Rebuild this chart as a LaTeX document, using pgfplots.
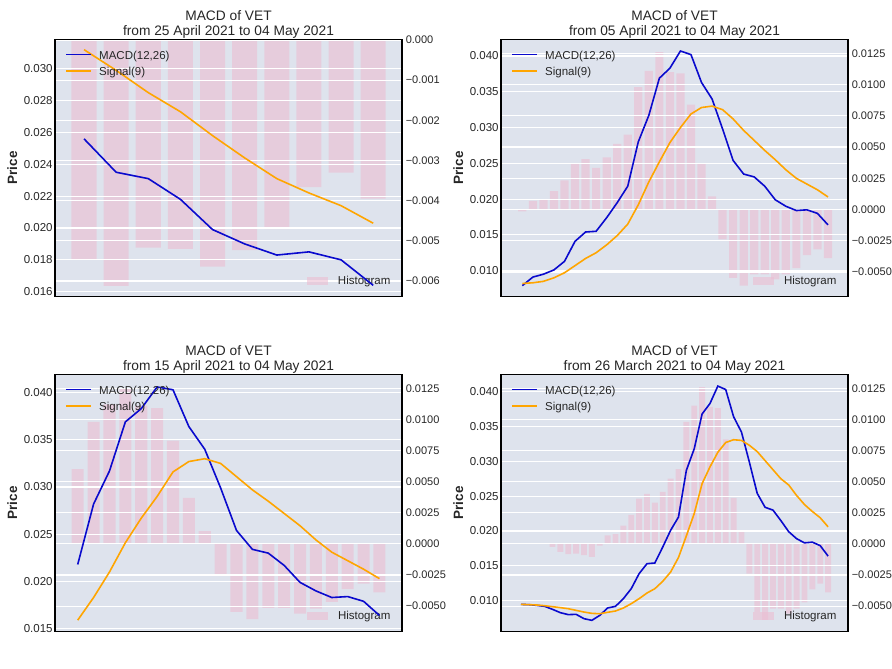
\documentclass[border=0pt]{standalone}
\usepackage{fontspec}
\setmainfont{Liberation Sans}
\usepackage{pgfplots}
\pgfplotsset{compat=1.18}
\definecolor{bgc}{RGB}{222,227,237}
\definecolor{barc}{RGB}{236,190,210}
\definecolor{macdc}{RGB}{10,10,205}
\definecolor{sigc}{RGB}{255,165,0}
\definecolor{txt}{RGB}{38,38,38}
\newcommand{\legfont}{\fontsize{11.5}{13}\selectfont}
\tikzset{
  macd/.style={macdc, line width=1.6pt},
  sig/.style={sigc, line width=1.6pt},
}
\pgfplotsset{
  base/.style={scale only axis, width=347pt, height=257.4pt, anchor=south west,
    xtick=\empty, scaled y ticks=false, major tick length=0pt,
    ymajorgrids, grid style={white, line width=1.1pt},
    axis line style={black, line width=1.3pt},
    tick label style={font=\fontsize{11.5}{13}\selectfont, text=txt},
    enlargelimits=false},
  rightax/.style={base, ytick pos=right, yticklabel pos=right, axis on top,
    yticklabel style={inner sep=0pt, outer sep=0pt, xshift=3.8pt, font=\fontsize{11}{13}\selectfont},
    axis background/.style={fill=bgc}},
  leftax/.style={base, ytick pos=left,
    yticklabel style={inner sep=0pt, outer sep=0pt, xshift=-2.4pt},
    ylabel={Price},
    ylabel style={at={(axis description cs:-0.1089,0.5)}, anchor=base, rotate=0,
      font=\bfseries\fontsize{13.5}{15}\selectfont, text=txt, inner sep=0pt},
    title style={at={(0.5,1)}, anchor=south, yshift=-5pt, inner sep=0pt, align=center,
      font=\fontsize{13.75}{15}\selectfont, text=txt}},
  hbar/.style={ybar, fill=barc, fill opacity=0.6, draw=none},
  rticksA/.style={ytick={-0.006,-0.005,-0.004,-0.003,-0.002,-0.001,0},
    yticklabels={−0.006,−0.005,−0.004,−0.003,−0.002,−0.001,0.000}},
  rticksB/.style={ytick={-0.005,-0.0025,0,0.0025,0.005,0.0075,0.01,0.0125},
    yticklabels={−0.0050,−0.0025,0.0000,0.0025,0.0050,0.0075,0.0100,0.0125}},
}
% legend entry of the histogram (lower right)
\newcommand{\histlegend}{%
  \fill[barc, fill opacity=0.6] ([shift={(-94.7pt,11.7pt)}]rel axis cs:1,0) rectangle ([shift={(-73.7pt,19.7pt)}]rel axis cs:1,0);
  \node[anchor=base west, inner sep=0pt, font=\legfont, text=txt] at ([shift={(-64.2pt,12.4pt)}]rel axis cs:1,0) {Histogram};}
% legend of the lines (upper left)
\newcommand{\linelegend}{%
  \draw[macd] ([shift={(11pt,-15.3pt)}]rel axis cs:0,1) -- ([shift={(36pt,-15.3pt)}]rel axis cs:0,1);
  \node[anchor=base west, inner sep=0pt, font=\legfont, text=txt] at ([shift={(44pt,-19.8pt)}]rel axis cs:0,1) {MACD(12,26)};
  \draw[sig] ([shift={(11pt,-31.5pt)}]rel axis cs:0,1) -- ([shift={(36pt,-31.5pt)}]rel axis cs:0,1);
  \node[anchor=base west, inner sep=0pt, font=\legfont, text=txt] at ([shift={(44pt,-35.8pt)}]rel axis cs:0,1) {Signal(9)};}
\begin{document}
\begin{tikzpicture}
\useasboundingbox (0,0) rectangle (892pt,669pt);
%% ---------------- Plot 1: 25 April - 04 May ----------------
\begin{axis}[rightax, rticksA, at={(55pt,372.3pt)}, xmin=-0.903, xmax=9.896,
  ymin=-0.00639, ymax=0.0000167]
\addplot[hbar, bar width=0.78] coordinates {(0,-0.00547) (1,-0.00612) (2,-0.00517) (3,-0.0052) (4,-0.00564) (5,-0.00523) (6,-0.00471) (7,-0.00366) (8,-0.0033) (9,-0.00395)};
\end{axis}
\begin{axis}[leftax, at={(55pt,372.3pt)}, xmin=-0.903, xmax=9.896,
  ymin=0.015685, ymax=0.03185,
  ytick={0.016,0.018,0.020,0.022,0.024,0.026,0.028,0.030},
  yticklabels={0.016,0.018,0.020,0.022,0.024,0.026,0.028,0.030},
  title={MACD of VET\\from 25 April 2021 to 04 May 2021}]
\histlegend
\addplot[macd] coordinates {(0,0.0256) (1,0.0235) (2,0.0231) (3,0.0218) (4,0.0199) (5,0.0190) (6,0.0183) (7,0.0185) (8,0.0180) (9,0.0164)};
\addplot[sig] coordinates {(0,0.0312) (1,0.0299) (2,0.0285) (3,0.0273) (4,0.0258) (5,0.0244) (6,0.0231) (7,0.0222) (8,0.0214) (9,0.0203)};
\linelegend
\end{axis}
%% ---------------- Plot 2: 05 April - 04 May ----------------
\begin{axis}[rightax, rticksB, at={(501pt,372.3pt)}, xmin=-2.026, xmax=30.90,
  ymin=-0.00698, ymax=0.01362]
\addplot[hbar, bar width=0.78] coordinates {(0,-0.00015) (1,0.00068) (2,0.00079) (3,0.00146) (4,0.00232) (5,0.00363) (6,0.00402) (7,0.00332) (8,0.00417) (9,0.00525) (10,0.0060) (11,0.0098) (12,0.0111) (13,0.0126) (14,0.0110) (15,0.0109) (16,0.0084) (17,0.0037) (18,0.00104) (19,-0.0024) (20,-0.00547) (21,-0.0061) (22,-0.0052) (23,-0.0052) (24,-0.0056) (25,-0.0052) (26,-0.0047) (27,-0.00365) (28,-0.0032) (29,-0.0039)};
\end{axis}
\begin{axis}[leftax, at={(501pt,372.3pt)}, xmin=-2.026, xmax=30.90,
  ymin=0.006355, ymax=0.04234,
  ytick={0.010,0.015,0.020,0.025,0.030,0.035,0.040},
  yticklabels={0.010,0.015,0.020,0.025,0.030,0.035,0.040},
  title={MACD of VET\\from 05 April 2021 to 04 May 2021}]
\histlegend
\addplot[macd] coordinates {(0,0.0079) (1,0.0091) (2,0.0095) (3,0.0101) (4,0.0113) (5,0.0141) (6,0.0154) (7,0.0155) (8,0.0174) (9,0.0195) (10,0.0218) (11,0.0280) (12,0.0317) (13,0.0369) (14,0.0383) (15,0.0407) (16,0.0402) (17,0.0363) (18,0.0340) (19,0.0298) (20,0.0254) (21,0.0235) (22,0.0231) (23,0.0218) (24,0.0199) (25,0.0190) (26,0.0184) (27,0.0185) (28,0.0180) (29,0.0164)};
\addplot[sig] coordinates {(0,0.0082) (1,0.0083) (2,0.0085) (3,0.0090) (4,0.0097) (5,0.0107) (6,0.0117) (7,0.0125) (8,0.0136) (9,0.0149) (10,0.0165) (11,0.0192) (12,0.0224) (13,0.0252) (14,0.0279) (15,0.0300) (16,0.0319) (17,0.0328) (18,0.0330) (19,0.0325) (20,0.0312) (21,0.0296) (22,0.0282) (23,0.0268) (24,0.0255) (25,0.0241) (26,0.0229) (27,0.0221) (28,0.0213) (29,0.0203)};
\linelegend
\end{axis}
%% ---------------- Plot 3: 15 April - 04 May ----------------
\begin{axis}[rightax, rticksB, at={(55pt,37.3pt)}, xmin=-1.43, xmax=20.42,
  ymin=-0.00706, ymax=0.013625]
\addplot[hbar, bar width=0.76] coordinates {(0,0.0060) (1,0.0098) (2,0.0112) (3,0.0125) (4,0.0111) (5,0.0109) (6,0.0083) (7,0.0037) (8,0.00102) (9,-0.00244) (10,-0.00546) (11,-0.00605) (12,-0.00514) (13,-0.00514) (14,-0.0056) (15,-0.0052) (16,-0.00466) (17,-0.00364) (18,-0.00319) (19,-0.00391)};
\end{axis}
\begin{axis}[leftax, at={(55pt,37.3pt)}, xmin=-1.43, xmax=20.42,
  ymin=0.01468, ymax=0.04194,
  ytick={0.015,0.020,0.025,0.030,0.035,0.040},
  yticklabels={0.015,0.020,0.025,0.030,0.035,0.040},
  title={MACD of VET\\from 15 April 2021 to 04 May 2021}]
\histlegend
\addplot[macd] coordinates {(0,0.0218) (1,0.0282) (2,0.0317) (3,0.0369) (4,0.0383) (5,0.0406) (6,0.0403) (7,0.0364) (8,0.0340) (9,0.0299) (10,0.0254) (11,0.0234) (12,0.0230) (13,0.0217) (14,0.0199) (15,0.0190) (16,0.0183) (17,0.0184) (18,0.0179) (19,0.0164)};
\addplot[sig] coordinates {(0,0.0159) (1,0.0183) (2,0.0210) (3,0.0241) (4,0.0267) (5,0.0290) (6,0.0316) (7,0.0327) (8,0.0330) (9,0.0325) (10,0.0311) (11,0.0297) (12,0.0285) (13,0.0272) (14,0.0259) (15,0.0244) (16,0.0231) (17,0.0222) (18,0.0213) (19,0.0203)};
\linelegend
\end{axis}
%% ---------------- Plot 4: 26 March - 04 May ----------------
\begin{axis}[rightax, rticksB, at={(501pt,37.3pt)}, xmin=-2.54, xmax=41.53,
  ymin=-0.00706, ymax=0.013625]
\addplot[hbar, bar width=0.74] coordinates {(4,-0.00024) (5,-0.00064) (6,-0.00083) (7,-0.00078) (8,-0.00091) (9,-0.00104) (10,-0.00015) (11,0.00068) (12,0.00079) (13,0.00146) (14,0.00232) (15,0.00363) (16,0.00402) (17,0.00332) (18,0.00417) (19,0.00525) (20,0.0060) (21,0.0098) (22,0.0111) (23,0.0126) (24,0.0110) (25,0.0109) (26,0.0084) (27,0.0037) (28,0.00104) (29,-0.0024) (30,-0.00547) (31,-0.0061) (32,-0.0052) (33,-0.0052) (34,-0.0056) (35,-0.0052) (36,-0.0047) (37,-0.00365) (38,-0.0032) (39,-0.0039)};
\end{axis}
\begin{axis}[leftax, at={(501pt,37.3pt)}, xmin=-2.54, xmax=41.53,
  ymin=0.00555, ymax=0.04249,
  ytick={0.010,0.015,0.020,0.025,0.030,0.035,0.040},
  yticklabels={0.010,0.015,0.020,0.025,0.030,0.035,0.040},
  title={MACD of VET\\from 26 March 2021 to 04 May 2021}]
\histlegend
\addplot[macd] coordinates {(0,0.00947) (1,0.00943) (2,0.00933) (3,0.00919) (4,0.00876) (5,0.00828) (6,0.0080) (7,0.00804) (8,0.00742) (9,0.00718) (10,0.00789) (11,0.00895) (12,0.00919) (13,0.01029) (14,0.01172) (15,0.01388) (16,0.01531) (17,0.01541) (18,0.0177) (19,0.0201) (20,0.0220) (21,0.0287) (22,0.0318) (23,0.0368) (24,0.0383) (25,0.0408) (26,0.0403) (27,0.0364) (28,0.0342) (29,0.0299) (30,0.0254) (31,0.0234) (32,0.0230) (33,0.0215) (34,0.0199) (35,0.0189) (36,0.0183) (37,0.0184) (38,0.0179) (39,0.0164)};
\addplot[sig] coordinates {(0,0.00947) (1,0.00943) (2,0.00938) (3,0.00928) (4,0.00914) (5,0.0090) (6,0.00885) (7,0.00861) (8,0.00837) (9,0.00818) (10,0.00813) (11,0.00833) (12,0.00852) (13,0.00895) (14,0.00957) (15,0.01029) (16,0.0111) (17,0.01172) (18,0.01278) (19,0.01411) (20,0.0162) (21,0.0193) (22,0.0225) (23,0.0268) (24,0.0292) (25,0.0313) (26,0.0327) (27,0.0331) (28,0.0330) (29,0.0323) (30,0.0314) (31,0.0301) (32,0.0288) (33,0.0275) (34,0.0266) (35,0.0251) (36,0.0238) (37,0.0228) (38,0.0219) (39,0.0206)};
\linelegend
\end{axis}
\end{tikzpicture}
\end{document}
